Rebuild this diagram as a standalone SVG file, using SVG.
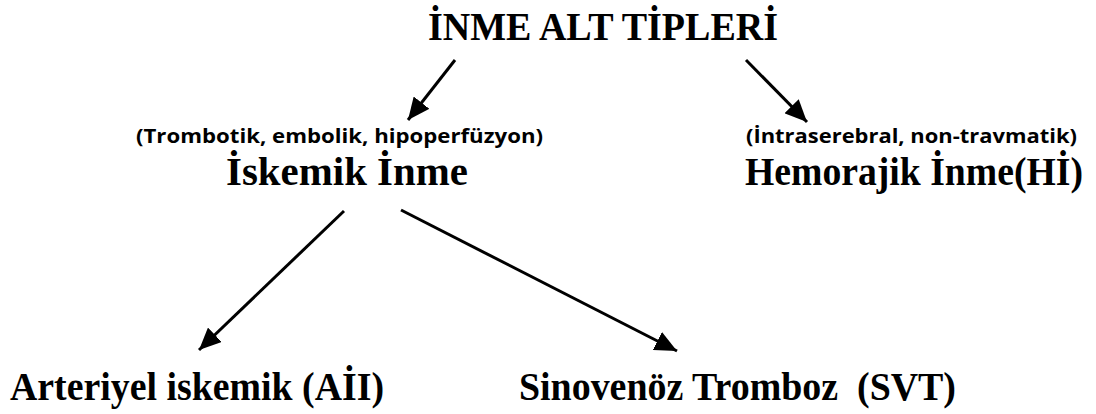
<svg xmlns="http://www.w3.org/2000/svg" width="1096" height="414" viewBox="0 0 1096 414">
<style>
.serif{font-family:"Liberation Serif","Times New Roman",serif;font-weight:bold;fill:#000}
.sans{font-family:"Open Sans","Noto Sans",sans-serif;font-weight:bold;fill:#000}
.conn{stroke:#000;stroke-width:3;fill:none;marker-end:url(#ah)}
</style>
<defs>
<marker id="ah" markerUnits="userSpaceOnUse" markerWidth="24" markerHeight="20" refX="22" refY="10" orient="auto">
<path d="M0,0 L22,10 L0,20 Z" fill="#000"/>
</marker>
</defs>
<rect width="1096" height="414" fill="#fff"/>
<g id="title"><text class="serif" x="428" y="40" font-size="40" textLength="350" lengthAdjust="spacingAndGlyphs">İNME ALT TİPLERİ</text></g>
<g id="iskemik">
<text class="sans" x="136" y="143" font-size="19" textLength="407" lengthAdjust="spacingAndGlyphs">(Trombotik, embolik, hipoperfüzyon)</text>
<text class="serif" x="226" y="185" font-size="41" textLength="242" lengthAdjust="spacingAndGlyphs">İskemik İnme</text>
</g>
<g id="hemorajik">
<text class="sans" x="746" y="143" font-size="19" textLength="331" lengthAdjust="spacingAndGlyphs">(İntraserebral, non-travmatik)</text>
<text class="serif" x="745" y="185" font-size="41" textLength="338" lengthAdjust="spacingAndGlyphs">Hemorajik İnme(Hİ)</text>
</g>
<g id="arteriyel"><text class="serif" x="10" y="400" font-size="40" textLength="374" lengthAdjust="spacingAndGlyphs">Arteriyel iskemik (AİI)</text></g>
<g id="svt"><text class="serif" x="519" y="400" font-size="40" textLength="437" lengthAdjust="spacingAndGlyphs" xml:space="preserve">Sinovenöz Tromboz  (SVT)</text></g>
<g id="connectors">
<line class="conn" x1="455" y1="60" x2="408" y2="120"/>
<line class="conn" x1="746" y1="60" x2="807" y2="122"/>
<line class="conn" x1="344" y1="211" x2="199" y2="350"/>
<line class="conn" x1="401" y1="210" x2="677" y2="351"/>
</g>
</svg>
